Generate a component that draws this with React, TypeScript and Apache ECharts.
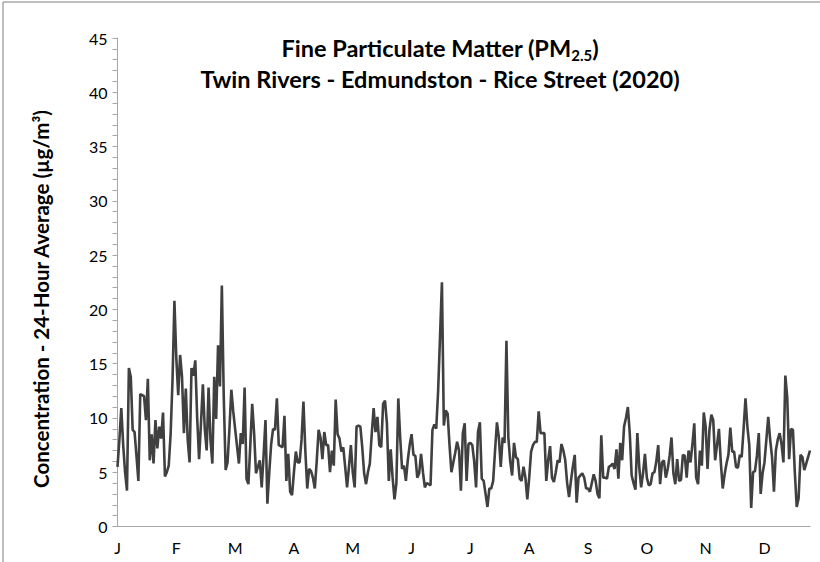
import React, { useEffect, useRef } from "react";
import * as echarts from "echarts";

// Daily 24-hour PM2.5 averages (µg/m³), 2020 (leap year: 366 days)
const jan = [5.5, 8.0, 10.9, 7.5, 5.0, 3.3, 14.6, 13.8, 8.9, 8.7, 6.5, 4.2, 12.2, 12.1, 12.0, 9.8, 13.6, 6.1, 8.5, 5.8, 9.8, 7.2, 9.2, 8.1, 10.5, 4.6, 5.0, 5.6, 8.5, 13.5, 20.8];
const feb = [15.5, 12.1, 15.8, 13.8, 8.6, 12.7, 8.0, 5.9, 14.6, 13.9, 15.3, 10.0, 6.2, 9.5, 13.1, 9.0, 7.0, 12.8, 8.0, 5.8, 13.8, 9.9, 16.7, 12.9, 22.2, 12.0, 5.2, 5.9, 9.0];
const mar = [12.6, 10.6, 9.0, 7.4, 5.8, 8.6, 7.6, 12.8, 4.4, 3.9, 7.5, 11.3, 8.6, 4.9, 5.5, 6.1, 3.6, 6.5, 9.8, 2.1, 5.0, 7.6, 9.0, 8.9, 11.8, 7.5, 7.4, 7.3, 10.2, 4.2, 6.7];
const apr = [3.2, 2.9, 5.0, 6.9, 5.9, 5.9, 8.0, 11.5, 7.0, 3.5, 5.3, 5.1, 4.5, 3.5, 6.0, 8.9, 8.2, 6.2, 8.7, 7.5, 7.5, 5.0, 7.0, 5.6, 11.7, 8.5, 8.1, 6.9, 7.3, 5.5];
const may = [3.6, 5.5, 7.5, 5.0, 3.6, 9.2, 9.3, 9.2, 7.3, 4.9, 3.9, 5.0, 5.8, 8.5, 10.9, 8.7, 10.1, 7.5, 7.3, 11.3, 11.6, 9.5, 4.2, 7.1, 4.5, 2.5, 4.0, 11.8, 8.2, 5.3, 5.6];
const jun = [4.2, 6.1, 7.5, 8.5, 6.6, 6.5, 4.5, 4.9, 6.7, 5.0, 3.6, 4.0, 3.9, 3.8, 8.9, 9.4, 9.0, 12.5, 17.5, 22.5, 9.3, 10.7, 10.4, 7.5, 5.0, 5.9, 6.8, 7.8, 7.0, 3.3];
const jul = [8.6, 9.5, 4.2, 7.6, 7.7, 7.5, 6.0, 3.6, 8.7, 9.6, 4.4, 4.2, 3.0, 1.8, 3.5, 3.5, 4.2, 7.0, 9.6, 8.2, 5.5, 8.2, 7.7, 17.1, 8.2, 6.0, 4.7, 7.7, 6.4, 6.2, 4.4];
const aug = [4.2, 5.5, 4.5, 2.5, 4.5, 6.9, 7.5, 7.8, 7.8, 10.6, 8.6, 8.6, 8.6, 4.2, 6.1, 7.4, 4.5, 4.1, 5.0, 6.1, 5.9, 7.6, 7.0, 6.1, 4.0, 2.7, 4.2, 5.5, 6.6, 2.2, 4.5];
const sep = [4.7, 4.9, 4.5, 3.5, 3.5, 3.2, 4.0, 4.8, 4.2, 3.0, 2.6, 8.4, 4.5, 4.5, 4.4, 5.5, 5.6, 5.8, 5.3, 7.1, 4.4, 7.7, 6.1, 9.2, 10.0, 11.0, 8.6, 4.7, 4.0, 3.4];
const oct = [8.6, 5.5, 3.6, 4.9, 6.7, 4.5, 3.8, 3.9, 4.9, 5.0, 6.0, 7.5, 3.9, 5.9, 6.1, 4.5, 5.3, 6.5, 8.2, 4.9, 3.9, 6.2, 4.2, 4.3, 6.6, 6.5, 4.5, 7.0, 5.9, 7.5, 9.5];
const nov = [4.5, 3.9, 7.0, 5.6, 10.5, 9.2, 5.3, 8.9, 10.3, 9.8, 6.1, 7.5, 9.0, 5.9, 3.5, 4.8, 5.8, 6.6, 9.1, 6.9, 6.9, 5.5, 5.4, 6.6, 6.4, 9.0, 11.8, 9.2, 7.5, 1.7];
const dec = [5.0, 5.1, 6.5, 8.6, 3.0, 4.9, 5.9, 8.0, 10.1, 8.0, 6.4, 3.2, 7.0, 8.0, 8.6, 7.6, 5.9, 13.9, 11.9, 6.2, 9.0, 8.9, 5.0, 1.8, 2.6, 6.6, 6.4, 5.2, 5.8, 6.4, 7.0];

const monthLabels = ["J", "F", "M", "A", "M", "J", "J", "A", "S", "O", "N", "D"];
const yTicks = [0, 5, 10, 15, 20, 25, 30, 35, 40, 45];
const yTitle = "Concentration - 24-Hour Average (µg/m³)";

const values = [...jan, ...feb, ...mar, ...apr, ...may, ...jun, ...jul, ...aug, ...sep, ...oct, ...nov, ...dec];
const days = values.map((_, i) => String(i));

const FONT = "Lato, 'Open Sans', sans-serif";

export default function App() {
  const ref = useRef<HTMLDivElement>(null);
  useEffect(() => {
    if (!ref.current) return;
    const chart = echarts.init(ref.current, undefined, { renderer: "svg" });
    chart.setOption({
      animation: false,
      backgroundColor: "#ffffff",
      title: [
        {
          text: "{t|Fine Particulate Matter (PM}{s|2.5}{t|)}",
          left: 440,
          top: 34,
          padding: 0,
          textAlign: "center",
          textStyle: {
            rich: {
              t: { fontFamily: FONT, fontSize: 23.5, fontWeight: "bold", color: "#000", lineHeight: 28 },
              s: { fontFamily: FONT, fontSize: 15, fontWeight: "bold", color: "#000", lineHeight: 15, verticalAlign: "bottom" },
            },
          },
        },
        {
          text: "Twin Rivers - Edmundston - Rice Street (2020)",
          left: 440,
          top: 65,
          padding: 0,
          textAlign: "center",
          textStyle: { fontFamily: FONT, fontSize: 23.5, fontWeight: "bold", color: "#000", lineHeight: 28 },
        },
      ],
      graphic: [
        {
          type: "rect",
          shape: { x: 3, y: 2, width: 900, height: 700 },
          style: { fill: "none", stroke: "#7f7f7f", lineWidth: 1 },
          silent: true,
        },
        {
          type: "text",
          x: 41,
          y: 299,
          rotation: Math.PI / 2,
          style: {
            text: yTitle,
            fontFamily: FONT,
            fontSize: 20.5,
            fontWeight: "bold",
            fill: "#000",
            align: "center",
            verticalAlign: "middle",
          },
          silent: true,
        },
      ],
      grid: { left: 117.5, right: 10, top: 38, bottom: 35.5, containLabel: false },
      xAxis: {
        type: "category",
        data: days,
        boundaryGap: false,
        axisLine: { lineStyle: { color: "#a6a6a6", width: 1 } },
        axisTick: { show: false },
        splitLine: { show: false },
        axisLabel: {
          interval: (idx: number) => idx % 31 === 0,
          margin: 13,
          fontFamily: FONT,
          fontSize: 16,
          color: "#000",
          formatter: (_v: string, idx: number) => monthLabels[Math.round(idx / 31)] ?? "",
        },
      },
      yAxis: {
        type: "value",
        min: yTicks[0],
        max: yTicks[yTicks.length - 1],
        interval: 5,
        axisLine: { show: true, lineStyle: { color: "#a6a6a6", width: 1 } },
        axisTick: { show: true, length: 5, lineStyle: { color: "#a6a6a6" } },
        minorTick: { show: true, splitNumber: 5, length: 5, lineStyle: { color: "#a6a6a6" } },
        splitLine: { show: false },
        minorSplitLine: { show: false },
        axisLabel: { margin: 10, fontFamily: FONT, fontSize: 16, color: "#000" },
      },
      series: [
        {
          type: "line",
          data: values,
          showSymbol: false,
          symbol: "none",
          lineStyle: { color: "#404040", width: 2.6 },
          silent: true,
        },
      ],
    });
    return () => chart.dispose();
  }, []);
  return <div ref={ref} style={{ position: "fixed", left: 0, top: 0, width: 820, height: 562 }} />;
}
